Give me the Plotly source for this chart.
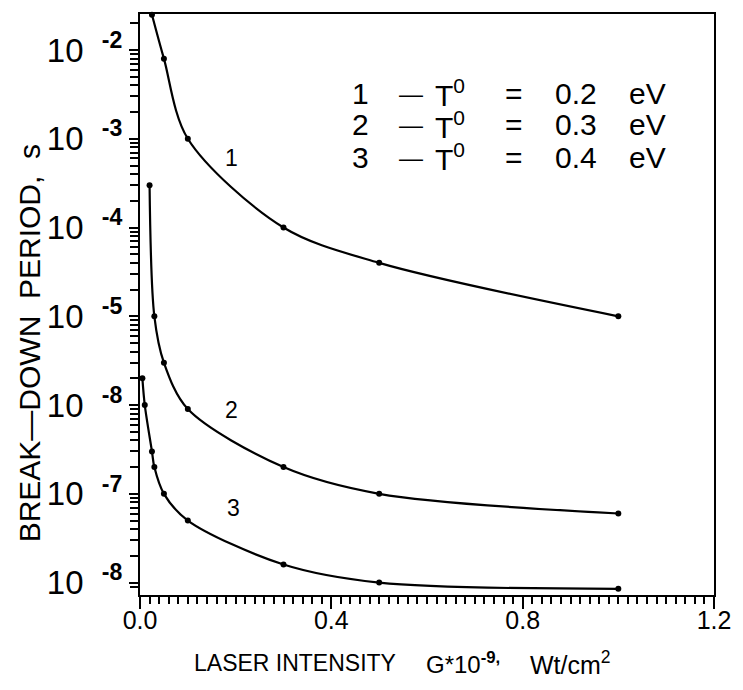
import math
import plotly.graph_objects as go

# Data
x1 = [0.025, 0.05, 0.1, 0.3, 0.5, 1.0]
y1 = [2.5e-2, 8e-3, 1e-3, 1e-4, 4e-5, 1e-5]

x2 = [0.02, 0.03, 0.05, 0.1, 0.3, 0.5, 1.0]
y2 = [3e-4, 1e-5, 3e-6, 9e-7, 2e-7, 1e-7, 6e-8]

x3 = [0.005, 0.01, 0.025, 0.03, 0.05, 0.1, 0.3, 0.5, 1.0]
y3 = [2e-6, 1e-6, 3e-7, 2e-7, 1e-7, 5e-8, 1.6e-8, 1e-8, 8.5e-9]

curve_labels = ["1", "2", "3"]
curve_label_x = [0.191, 0.191, 0.195]
curve_label_y = [6.1e-4, 8.8e-7, 6.9e-8]

legend_numbers = ["1", "2", "3"]
legend_values = ["0.2", "0.3", "0.4"]

y_major = [1e-2, 1e-3, 1e-4, 1e-5, 1e-6, 1e-7, 1e-8]
y_exponents = ["-2", "-3", "-4", "-5", "-8", "-7", "-8"]
x_major = [0.0, 0.4, 0.8, 1.2]
x_major_text = ["0.0", "0.4", "0.8", "1.2"]

y_text = ["10&nbsp;&nbsp;<sup><b>" + e + "</b></sup>" for e in y_exponents]
y_minor = [v * d for v in y_major for d in range(2, 10)] + [9e-9]

FONT = "Liberation Sans, Arial, sans-serif"

fig = go.Figure()
for xs, ys in [(x1, y1), (x2, y2), (x3, y3)]:
    fig.add_trace(go.Scatter(
        x=xs, y=ys, mode="lines+markers",
        line=dict(color="black", width=2.2, shape="spline", smoothing=0.9),
        marker=dict(color="black", size=6),
        cliponaxis=False, showlegend=False,
    ))

for lab, lx, ly in zip(curve_labels, curve_label_x, curve_label_y):
    fig.add_annotation(x=lx, y=math.log10(ly), xref="x", yref="y", text=lab, showarrow=False,
                       font=dict(size=23, color="black", family=FONT))

PW = 581.0
def px(xpix):
    return (xpix - 140) / PW

def py(ypix):
    return (595 - ypix) / PW

row_y = [93, 125, 157]
for i in range(3):
    yy = py(row_y[i])
    tokens = [
        (353, legend_numbers[i], 30),
        (400, "\u2014", 24),
        (437, "T<sup>0</sup>", 30),
        (507, "=", 30),
        (558, legend_values[i], 30),
        (633, "eV", 30),
    ]
    for xpix, txt, sz in tokens:
        fig.add_annotation(xref="paper", yref="paper", x=px(xpix), y=yy,
                           xanchor="left", yanchor="middle", text=txt, showarrow=False,
                           font=dict(size=sz, color="black", family=FONT))

# x-axis title in three pieces
for xpix, txt, sz in [(193, "LASER INTENSITY", 23),
                      (427, "G*10<sup><b>-9,</b></sup>", 24),
                      (533, "Wt/cm<sup>2</sup>", 25)]:
    fig.add_annotation(xref="paper", yref="paper", x=px(xpix), y=py(663), xanchor="left",
                       yanchor="middle", showarrow=False, text=txt,
                       font=dict(size=sz, color="black", family=FONT))

fig.add_annotation(xref="paper", yref="paper", x=px(29), y=py(343), xanchor="center",
                   yanchor="middle", showarrow=False, textangle=-90,
                   text="BREAK\u2014DOWN&nbsp;&nbsp;PERIOD,&nbsp;&nbsp;s",
                   font=dict(size=30, color="black", family=FONT))

fig.update_layout(
    width=743, height=690,
    margin=dict(l=140, r=22, t=14, b=95),
    paper_bgcolor="white", plot_bgcolor="white",
    font=dict(family=FONT, color="black"),
)
fig.update_xaxes(
    range=[0, 1.2], tickmode="array", tickvals=x_major, ticktext=x_major_text,
    ticks="outside", ticklen=12, tickwidth=2, tickcolor="black",
    ticklabelstandoff=-10,
    tickfont=dict(size=25, family=FONT),
    minor=dict(ticks="outside", dtick=0.02, ticklen=7, tickwidth=1.5, tickcolor="black", showgrid=False),
    showline=True, linecolor="black", linewidth=2, mirror=True,
    showgrid=False, zeroline=False,
)
fig.update_yaxes(
    type="log", range=[-8.14, -1.594], tickmode="array", tickvals=y_major, ticktext=y_text,
    ticks="outside", ticklen=9, tickwidth=2, tickcolor="black",
    tickfont=dict(size=33, family=FONT),
    minor=dict(tickmode="array", tickvals=y_minor, ticks="outside", ticklen=8, tickwidth=1.8,
               tickcolor="black", showgrid=False),
    showline=True, linecolor="black", linewidth=2, mirror=True,
    showgrid=False, zeroline=False,
)

fig.write_html("out.html")
